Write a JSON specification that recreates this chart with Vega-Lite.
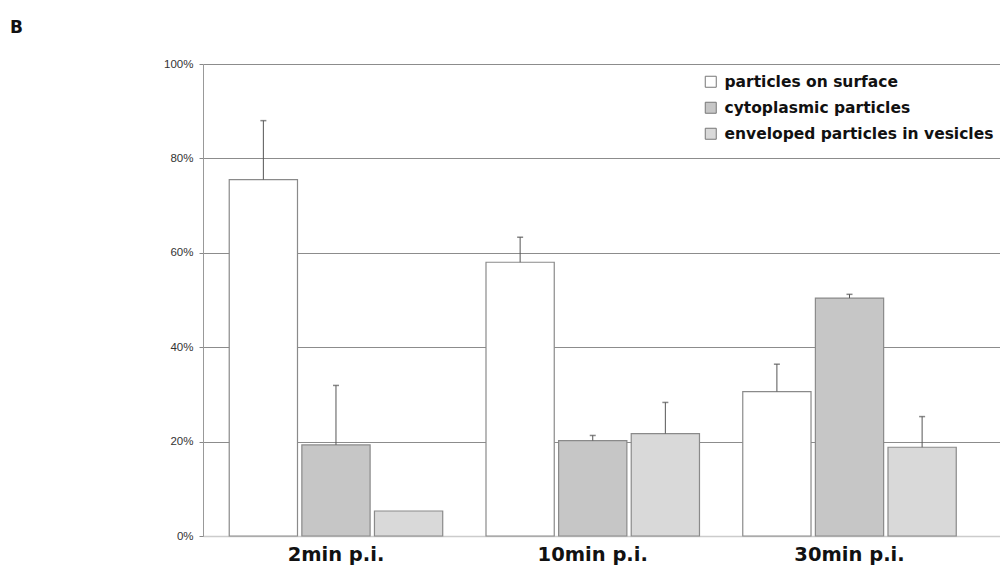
{
  "$schema": "https://vega.github.io/schema/vega-lite/v6.json",
  "autosize": {"type": "none"},
  "width": 797,
  "height": 472,
  "padding": {"left": 203, "top": 64, "right": 0, "bottom": 38},
  "background": "white",
  "title": {
    "text": "B",
    "anchor": "start",
    "frame": "group",
    "font": "DejaVu Sans",
    "fontSize": 17,
    "fontWeight": "bold",
    "color": "#111",
    "dx": -193,
    "offset": 8,
    "baseline": "alphabetic"
  },
  "config": {
    "view": {"stroke": null},
    "axis": {"labelFont": "Liberation Sans"},
    "legend": {"labelFont": "DejaVu Sans"}
  },
  "data": {
    "values": [
      {"time": "2min p.i.", "category": "particles on surface", "value": 0.755, "upper": 0.88},
      {"time": "2min p.i.", "category": "cytoplasmic particles", "value": 0.193, "upper": 0.319},
      {"time": "2min p.i.", "category": "enveloped particles in vesicles", "value": 0.053, "upper": null},
      {"time": "10min p.i.", "category": "particles on surface", "value": 0.58, "upper": 0.633},
      {"time": "10min p.i.", "category": "cytoplasmic particles", "value": 0.202, "upper": 0.213},
      {"time": "10min p.i.", "category": "enveloped particles in vesicles", "value": 0.217, "upper": 0.283},
      {"time": "30min p.i.", "category": "particles on surface", "value": 0.306, "upper": 0.364},
      {"time": "30min p.i.", "category": "cytoplasmic particles", "value": 0.504, "upper": 0.512},
      {"time": "30min p.i.", "category": "enveloped particles in vesicles", "value": 0.188, "upper": 0.253}
    ]
  },
  "encoding": {
    "x": {
      "field": "time",
      "type": "nominal",
      "sort": ["2min p.i.", "10min p.i.", "30min p.i."],
      "scale": {"paddingInner": 0, "paddingOuter": 0.052, "align": 0.172},
      "axis": {
        "title": null,
        "labelAngle": 0,
        "labelFont": "DejaVu Sans",
        "labelFontSize": 19.5,
        "labelFontWeight": "bold",
        "labelColor": "#111",
        "labelPadding": 9,
        "ticks": false,
        "domainColor": "#cccccc",
        "domainWidth": 1.5,
        "grid": false
      }
    },
    "xOffset": {
      "field": "category",
      "type": "nominal",
      "sort": ["particles on surface", "cytoplasmic particles", "enveloped particles in vesicles"],
      "scale": {"paddingInner": 0.06, "paddingOuter": 0.298}
    }
  },
  "layer": [
    {
      "mark": {"type": "bar", "stroke": "#8a8a8a", "strokeWidth": 1.2},
      "encoding": {
        "y": {
          "field": "value",
          "type": "quantitative",
          "scale": {"domain": [0, 1], "nice": false},
          "axis": {
            "title": null,
            "values": [0, 0.2, 0.4, 0.6, 0.8, 1],
            "format": ".0%",
            "labelFontSize": 11.5,
            "labelColor": "#333",
            "labelPadding": 6,
            "tickSize": 4,
            "tickColor": "#888",
            "domainColor": "#999",
            "gridColor": "#8c8c8c",
            "gridWidth": 1,
            "gridOpacity": 1
          }
        },
        "fill": {
          "field": "category",
          "type": "nominal",
          "sort": ["particles on surface", "cytoplasmic particles", "enveloped particles in vesicles"],
          "scale": {"range": ["#ffffff", "#c6c6c6", "#d9d9d9"]},
          "legend": {
            "title": null,
            "orient": "none",
            "legendX": 500,
            "legendY": 10,
            "symbolType": "square",
            "symbolSize": 121,
            "symbolStrokeColor": "#777",
            "symbolStrokeWidth": 1,
            "labelFontSize": 15.5,
            "labelFontWeight": "bold",
            "labelColor": "#111",
            "labelOffset": 6,
            "labelLimit": 0,
            "rowPadding": 9,
            "padding": 0
          }
        }
      }
    },
    {
      "transform": [{"filter": "datum.upper != null"}],
      "mark": {"type": "rule", "color": "#555", "strokeWidth": 1},
      "encoding": {
        "y": {"field": "value", "type": "quantitative"},
        "y2": {"field": "upper"}
      }
    },
    {
      "transform": [{"filter": "datum.upper != null"}],
      "mark": {"type": "tick", "color": "#555", "size": 6, "thickness": 1.5, "orient": "horizontal"},
      "encoding": {
        "y": {"field": "upper", "type": "quantitative"}
      }
    }
  ]
}
